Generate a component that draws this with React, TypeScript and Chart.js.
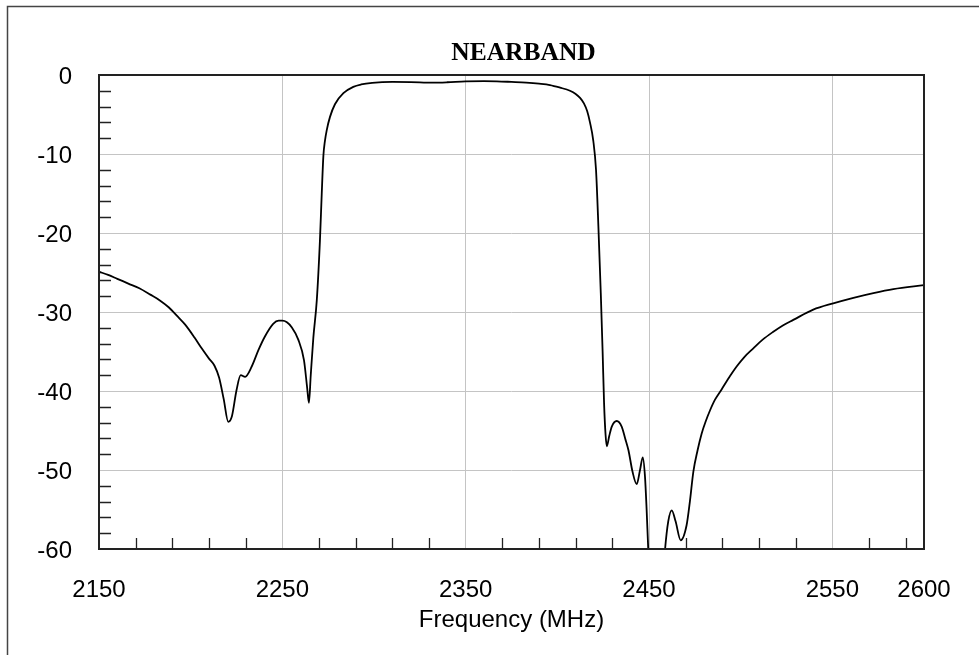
import React, { useEffect, useRef } from 'react';
import { Chart, registerables } from 'chart.js';

Chart.register(...registerables);

const titleText = 'NEARBAND';
const xAxisTitle = 'Frequency (MHz)';

const frequencies = [
  2150, 2155, 2160, 2166, 2172, 2178, 2183, 2188, 2193, 2197,
  2202, 2206, 2210, 2213, 2215.5, 2218, 2220.5, 2222.5, 2225, 2227.3,
  2229.7, 2233.3, 2237, 2240.5, 2245, 2248, 2250, 2252.5, 2255, 2258.7,
  2261.8, 2263.5, 2264.5, 2265.5, 2266.9, 2268.8, 2270.5, 2271.5, 2272.4, 2273.2,
  2274.2, 2276, 2278.7, 2283.3, 2288.7, 2293, 2299, 2310, 2320, 2332,
  2340, 2350, 2360, 2367, 2375, 2383, 2390, 2396, 2401.5, 2406.9,
  2410, 2412.4, 2414.5, 2416.3, 2417.8, 2419.6, 2421.1, 2422.4, 2423.7, 2424.7,
  2425.5, 2426.3, 2427, 2428.3, 2429.7, 2432.4, 2435.1, 2437, 2438.8, 2441,
  2443.3, 2445.1, 2446.6, 2447.8, 2448.7, 2449.6, 2451, 2453, 2455, 2457,
  2458.7, 2460.5, 2462.4, 2464.5, 2467.3, 2470.5, 2472.3, 2474.2, 2476.5, 2478.7,
  2481, 2483.2, 2486, 2489.6, 2494.2, 2497.8, 2502, 2506.9, 2512, 2517.8,
  2523, 2528.7, 2539.6, 2550.5, 2561.5, 2572.4, 2583.3, 2600,
];

const responseDb = [
  -24.9, -25.3, -25.8, -26.4, -27.0, -27.8, -28.5, -29.4, -30.6, -31.6,
  -33.2, -34.6, -35.9, -36.8, -38.3, -41.0, -43.9, -43.2, -39.9, -38.0,
  -38.2, -36.9, -34.8, -33.1, -31.5, -31.1, -31.1, -31.3, -31.9, -33.5,
  -36.1, -39.5, -41.5, -38.0, -33.3, -28.5, -21.0, -15.0, -10.2, -8.4,
  -7.0, -5.3, -3.7, -2.3, -1.5, -1.2, -1.0, -0.88, -0.9, -0.97,
  -0.92, -0.8, -0.78, -0.8, -0.88, -0.97, -1.1, -1.27, -1.6, -2.0,
  -2.4, -2.9, -3.6, -4.6, -6.0, -8.3, -12.0, -19.2, -27.6, -35.0,
  -41.6, -45.5, -47.0, -45.7, -44.5, -43.8, -44.5, -46.0, -47.5, -50.2,
  -51.8, -50.0, -48.4, -50.8, -55.0, -60.1, -66.0, -71.0, -70.0, -66.0,
  -60.2, -56.5, -55.1, -56.5, -58.9, -57.0, -54.0, -50.2, -47.5, -45.4,
  -43.8, -42.5, -41.1, -39.8, -38.1, -36.9, -35.7, -34.6, -33.5, -32.5,
  -31.7, -31.0, -29.7, -28.9, -28.2, -27.6, -27.1, -26.6,
];

const xTickValues = [2150, 2250, 2350, 2450, 2550, 2600];
const xGridValues = [2250, 2350, 2450, 2550];
const xMinorTicks = [
  2170, 2190, 2210, 2230, 2270, 2290, 2310, 2330, 2370, 2390,
  2410, 2430, 2470, 2490, 2510, 2530, 2570, 2590,
];
const yMinorTicks = [
  -2, -4, -6, -8, -12, -14, -16, -18, -22, -24, -26, -28,
  -32, -34, -36, -38, -42, -44, -46, -48, -52, -54, -56, -58,
];

const sansFamily = 'Arial, "Liberation Sans", Helvetica, sans-serif';
const serifFamily = '"Times New Roman", "Liberation Serif", Times, serif';

export default function App() {
  const ref = useRef<HTMLCanvasElement>(null);

  useEffect(() => {
    document.body.style.margin = '0';
    const canvas = ref.current;
    if (!canvas) return;

    const framePlugin = {
      id: 'framePlugin',
      beforeDraw(chart: any) {
        const ctx = chart.ctx;
        ctx.save();
        ctx.fillStyle = '#ffffff';
        ctx.fillRect(0, 0, chart.width, chart.height);
        ctx.strokeStyle = '#444444';
        ctx.lineWidth = 1.5;
        ctx.beginPath();
        ctx.moveTo(7.5, chart.height);
        ctx.lineTo(7.5, 6.5);
        ctx.lineTo(chart.width, 6.5);
        ctx.stroke();
        ctx.restore();
      },
      afterDraw(chart: any) {
        const ctx = chart.ctx;
        const a = chart.chartArea;
        const xs = chart.scales.x;
        const ys = chart.scales.y;
        ctx.save();
        ctx.strokeStyle = '#222222';
        ctx.lineWidth = 1.3;
        ctx.beginPath();
        for (const v of yMinorTicks) {
          const py = Math.round(ys.getPixelForValue(v)) + 0.5;
          ctx.moveTo(a.left, py);
          ctx.lineTo(a.left + 12, py);
        }
        for (const v of xMinorTicks) {
          const px = Math.round(xs.getPixelForValue(v)) + 0.5;
          ctx.moveTo(px, a.bottom);
          ctx.lineTo(px, a.bottom - 11);
        }
        ctx.stroke();
        ctx.lineWidth = 2;
        ctx.strokeStyle = '#222222';
        ctx.strokeRect(a.left, a.top, a.right - a.left, a.bottom - a.top);

        // chart title
        ctx.fillStyle = '#000000';
        ctx.font = 'bold 25.5px ' + serifFamily;
        ctx.textAlign = 'center';
        ctx.textBaseline = 'alphabetic';
        ctx.fillText(titleText, (a.left + a.right) / 2 + 12, 59.5);
        ctx.restore();
      },
    };

    const chart = new Chart(canvas, {
      type: 'line',
      data: {
        datasets: [
          {
            label: titleText,
            data: frequencies.map((f, i) => ({ x: f, y: responseDb[i] })),
            borderColor: '#000000',
            borderWidth: 1.8,
            pointRadius: 0,
            fill: false,
            cubicInterpolationMode: 'monotone',
          },
        ],
      },
      options: {
        responsive: false,
        animation: false,
        devicePixelRatio: 1,
        layout: { padding: { left: 0, right: 55, top: 75, bottom: 0 } },
        plugins: {
          legend: { display: false },
          tooltip: { enabled: false },
          title: { display: false },
        },
        scales: {
          x: {
            type: 'linear',
            min: 2150,
            max: 2600,
            afterBuildTicks: (s: any) => {
              s.ticks = xTickValues.map((v) => ({ value: v }));
            },
            afterFit: (s: any) => {
              s.height = 106;
            },
            ticks: {
              autoSkip: false,
              maxRotation: 0,
              minRotation: 0,
              padding: 27,
              color: '#000000',
              font: { family: sansFamily, size: 24 },
              callback: (v: any) => String(v),
            },
            grid: {
              drawTicks: false,
              lineWidth: 1,
              color: (ctx: any) =>
                ctx.tick && xGridValues.includes(ctx.tick.value) ? '#c4c4c4' : 'rgba(0,0,0,0)',
            },
            border: { display: false },
            title: {
              display: true,
              text: xAxisTitle,
              color: '#000000',
              font: { family: sansFamily, size: 24, lineHeight: 1.2 },
              padding: { top: 0, bottom: 20 },
            },
          },
          y: {
            type: 'linear',
            min: -60,
            max: 0,
            afterFit: (s: any) => {
              s.width = 99;
            },
            ticks: {
              stepSize: 10,
              padding: 27,
              labelOffset: 2,
              color: '#000000',
              font: { family: sansFamily, size: 24 },
              callback: (v: any) => String(v),
            },
            grid: {
              drawTicks: false,
              lineWidth: 1,
              color: (ctx: any) =>
                ctx.tick && ctx.tick.value !== 0 && ctx.tick.value !== -60 ? '#c4c4c4' : 'rgba(0,0,0,0)',
            },
            border: { display: false },
          },
        },
      },
      plugins: [framePlugin],
    } as any);

    return () => {
      chart.destroy();
    };
  }, []);

  return <canvas ref={ref} width={979} height={655} style={{ display: 'block' }} />;
}
